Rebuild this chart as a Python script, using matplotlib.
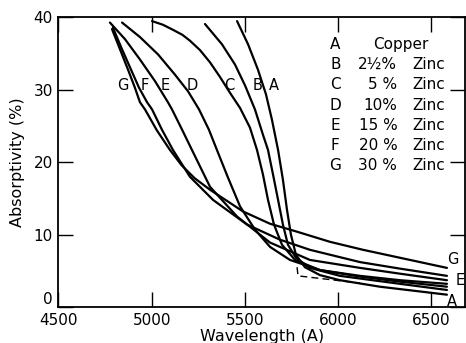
import matplotlib
matplotlib.use("Agg")
import matplotlib.pyplot as plt

# absorptivity curves (wavelength in A, absorptivity in %)
wl_a = [5458, 5517, 5570, 5613, 5645, 5678, 5704, 5726, 5747, 5774, 5822, 5903, 6010, 6225, 6584]
ab_a = [39.5, 36.3, 32.8, 29.4, 25.9, 21.7, 17.6, 13.4, 10.0, 7.2, 5.5, 4.4, 3.7, 2.8, 1.7]

wl_b = [5286, 5377, 5447, 5501, 5554, 5597, 5624, 5651, 5678, 5704, 5731, 5774, 5849, 6010, 6332, 6584]
ab_b = [39.1, 36.3, 33.5, 30.6, 27.3, 23.8, 21.7, 18.3, 14.8, 11.4, 8.6, 6.8, 5.4, 4.3, 3.2, 2.35]

wl_c = [5002, 5060, 5114, 5165, 5205, 5259, 5313, 5366, 5420, 5474, 5527, 5565, 5597, 5624, 5656, 5699, 5769, 5903, 6118, 6332, 6584]
ab_c = [39.5, 39.0, 38.3, 37.6, 36.8, 35.5, 33.8, 31.8, 29.6, 27.5, 24.8, 21.7, 18.3, 14.8, 11.4, 8.6, 6.5, 5.1, 4.2, 3.5, 2.8]

wl_d = [4841, 4937, 5034, 5125, 5195, 5254, 5307, 5350, 5409, 5474, 5554, 5635, 5742, 5903, 6118, 6332, 6584]
ab_d = [39.3, 37.3, 34.9, 32.1, 29.8, 27.3, 24.5, 21.7, 17.9, 13.9, 10.7, 8.3, 6.5, 5.1, 4.3, 3.7, 3.2]

wl_e = [4776, 4857, 4937, 5018, 5087, 5109, 5163, 5216, 5313, 5458, 5635, 5849, 6118, 6332, 6584]
ab_e = [39.3, 37.0, 34.2, 31.2, 28.3, 27.3, 24.5, 21.7, 16.6, 12.5, 8.9, 6.5, 5.4, 4.6, 3.7]

wl_f = [4792, 4841, 4889, 4932, 4975, 5002, 5055, 5114, 5205, 5329, 5511, 5688, 5849, 6118, 6332, 6584]
ab_f = [38.6, 35.6, 32.8, 30.3, 28.3, 27.3, 24.5, 21.7, 18.0, 14.8, 11.4, 9.3, 7.9, 6.2, 5.3, 4.3]

wl_g = [4787, 4830, 4873, 4910, 4937, 4964, 5028, 5098, 5160, 5230, 5313, 5490, 5635, 5780, 5957, 6134, 6332, 6584]
ab_g = [38.4, 35.6, 32.8, 30.3, 28.3, 27.3, 24.4, 21.7, 19.6, 17.8, 16.2, 13.2, 11.5, 10.4, 9.0, 7.9, 6.8, 5.4]

wl_dash = [5780, 5785, 6118]
ab_dash = [5.5, 4.3, 3.3]

curves = [(wl_a, ab_a), (wl_b, ab_b), (wl_c, ab_c), (wl_d, ab_d),
          (wl_e, ab_e), (wl_f, ab_f), (wl_g, ab_g)]

letters = ["A", "B", "C", "D", "E", "F", "G"]
alloys = ["Copper", "2½%", "5 %", "10%", "15 %", "20 %", "30 %"]

# letters written next to the curves
top_lab_x = [5656, 5570, 5415, 5216, 5071, 4964, 4846]
end_lab = [("G", 6616, 6.5), ("E", 6655, 3.6), ("A", 6612, 0.8)]

fig = plt.figure(figsize=(4.66, 3.43), dpi=100)
ax = fig.add_axes([0.1255, 0.105, 0.872, 0.844])

for wl, ab in curves:
    ax.plot(wl, ab, color="black", lw=1.6, solid_capstyle="round",
            solid_joinstyle="round")
ax.plot(wl_dash, ab_dash, color="black", lw=1.0, ls=(0, (5, 3)))

for lab, x in zip(letters, top_lab_x):
    ax.text(x, 30.6, lab, ha="center", va="center", fontsize=10.5)
for lab, x, y in end_lab:
    ax.text(x, y, lab, ha="center", va="center", fontsize=10.5)

# key in the upper right
for i, (lab, txt) in enumerate(zip(letters, alloys)):
    y = 36.3 - i * 2.8
    ax.text(5985, y, lab, ha="center", va="center", fontsize=11)
    if i == 0:
        ax.text(6335, y, txt, ha="center", va="center", fontsize=11)
    else:
        ax.text(6318, y, txt, ha="right", va="center", fontsize=11)
        ax.text(6398, y, "Zinc", ha="left", va="center", fontsize=11)

ax.set_xlim(4500, 6680)
ax.set_ylim(0, 40)
ax.set_xticks([4500, 5000, 5500, 6000, 6500])
ax.set_yticks([0, 10, 20, 30, 40])
ax.tick_params(direction="in", top=True, right=True, length=11, width=1.0,
               labelsize=11, pad=4)
for s in ax.spines.values():
    s.set_linewidth(1.3)
# the 0 label sits just above the corner, clear of 4500
ax.get_yticklabels()[0].set_verticalalignment("bottom")

ax.set_xlabel("Wavelength (A)", fontsize=11.5, labelpad=1)
ax.set_ylabel("Absorptivity (%)", fontsize=11.5, labelpad=6)

fig.savefig("out.png", dpi=100)
